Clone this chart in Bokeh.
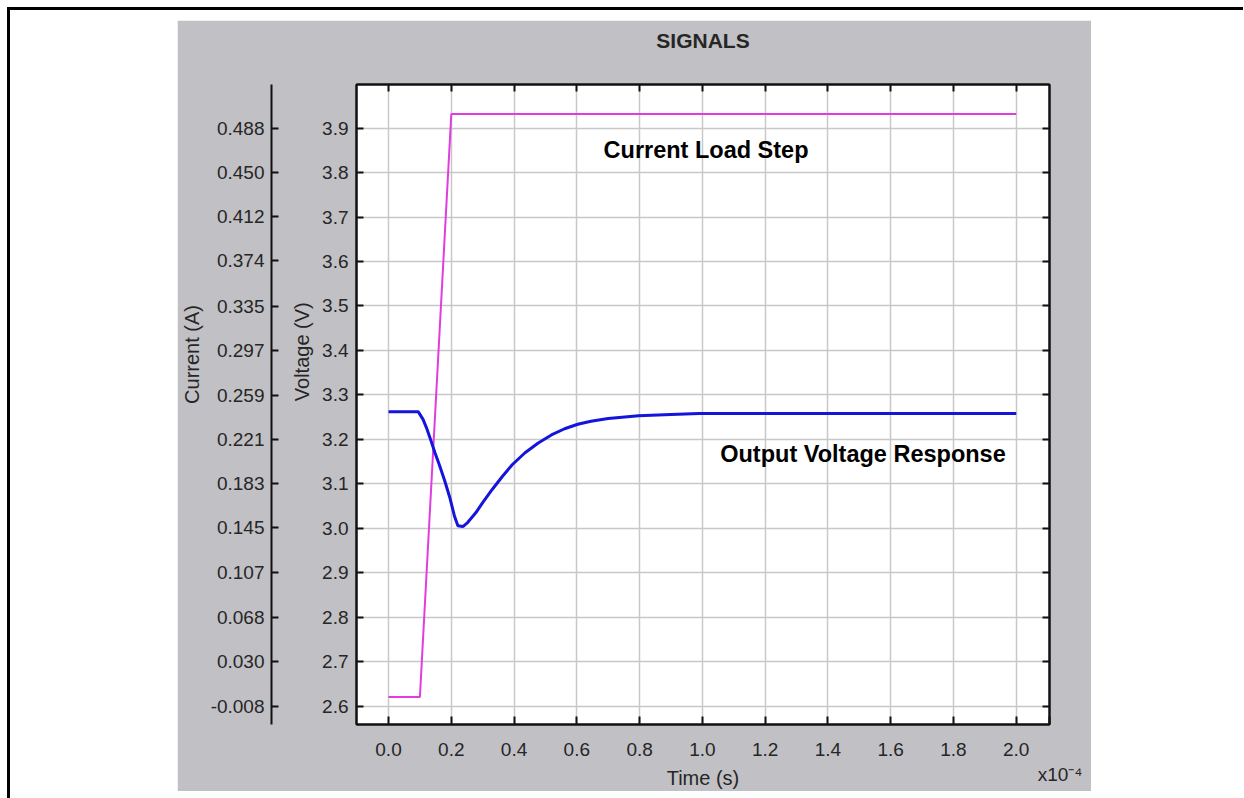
import numpy as np
from bokeh.plotting import figure
from bokeh.models import (LinearAxis, Range1d, FixedTicker, NumeralTickFormatter, Spacer, Label)
from bokeh.layouts import row, column
from bokeh.embed import file_html
from bokeh.resources import INLINE

# ---------------- data ----------------
time_ticks = [0.0, 0.2, 0.4, 0.6, 0.8, 1.0, 1.2, 1.4, 1.6, 1.8, 2.0]          # x10^-4 s
time_multiplier = "x10\u207b\u2074"
voltage_ticks = [2.6, 2.7, 2.8, 2.9, 3.0, 3.1, 3.2, 3.3, 3.4, 3.5, 3.6, 3.7, 3.8, 3.9]
current_tick_labels = ["-0.008", "0.030", "0.068", "0.107", "0.145", "0.183", "0.221",
                       "0.259", "0.297", "0.335", "0.374", "0.412", "0.450", "0.488"]

current_time = [0.0, 0.1, 0.2, 2.0]
current_amps = [0.0, 0.0, 0.5, 0.5]

voltage_time = [0.0, 0.095, 0.11, 0.121, 0.132, 0.148, 0.163, 0.179, 0.195, 0.21,
                0.221, 0.237, 0.252, 0.278, 0.30, 0.331, 0.362, 0.394, 0.435, 0.477,
                0.519, 0.561, 0.603, 0.645, 0.70, 0.797, 0.90, 0.99, 2.0]
voltage_volts = [3.262, 3.262, 3.245, 3.226, 3.204, 3.170, 3.141, 3.107, 3.070, 3.028,
                 3.006, 3.004, 3.013, 3.035, 3.058, 3.088, 3.116, 3.143, 3.170, 3.192,
                 3.210, 3.224, 3.234, 3.241, 3.247, 3.253, 3.256, 3.258, 3.258]

# ---------------- style ----------------
FONT = "Liberation Sans"
GRAY = "#c1c0c4"
TXT = "#262626"
AXC = "#111111"
NB = "\u00a0"

V_MIN, V_MAX = 2.559, 3.998
T_MIN, T_MAX = -0.102, 2.106
cur_lo, cur_hi = float(current_tick_labels[0]), float(current_tick_labels[-1])
k = (cur_hi - cur_lo) / (voltage_ticks[-1] - voltage_ticks[0])
I_MIN = cur_lo + (V_MIN - voltage_ticks[0]) * k
I_MAX = cur_lo + (V_MAX - voltage_ticks[0]) * k

p = figure(width=914, height=771,
           x_range=Range1d(T_MIN, T_MAX), y_range=Range1d(V_MIN, V_MAX),
           output_backend="svg", toolbar_location=None,
           border_fill_color=GRAY, background_fill_color="white",
           outline_line_color=AXC, outline_line_width=2,
           min_border_left=172, min_border_right=42,
           min_border_top=64, min_border_bottom=66)
p.extra_y_ranges = {"current": Range1d(I_MIN, I_MAX)}

# title sits on the first of two lines so that it rides higher above the frame
p.title.text = "SIGNALS\n"
p.title.align = "center"
p.title.text_font = FONT
p.title.text_font_size = "21px"
p.title.text_font_style = "bold"
p.title.text_color = TXT
p.title.text_line_height = 1.4
p.title.standoff = 0


def style_axis(ax, ticks, fmt, tick_in=7):
    ax.ticker = FixedTicker(ticks=ticks)
    ax.formatter = NumeralTickFormatter(format=fmt)
    ax.major_tick_in = tick_in
    ax.major_tick_out = 0
    ax.minor_tick_line_color = None
    ax.axis_line_color = AXC
    ax.axis_line_width = 2
    ax.major_tick_line_color = AXC
    ax.major_tick_line_width = 2
    ax.major_label_text_font = FONT
    ax.major_label_text_font_size = "19px"
    ax.major_label_text_color = TXT
    ax.axis_label_text_font = FONT
    ax.axis_label_text_font_size = "20px"
    ax.axis_label_text_font_style = "normal"
    ax.axis_label_text_color = TXT


# bottom time axis; the x10^-4 multiplier sits on a second line at the axis end
mult_tick = T_MAX - 1e-9
xa = p.xaxis[0]
style_axis(xa, time_ticks + [mult_tick], "0.0", 8)
xa.major_label_overrides = {mult_tick: "\n" + NB * 4 + time_multiplier}
xa.major_label_standoff = 14
xa.axis_label = "Time (s)"
xa.axis_label_standoff = -21

# left voltage axis (next to frame)
va = p.yaxis[0]
style_axis(va, voltage_ticks, "0.0")
va.major_label_standoff = 8
va.axis_label = "\n" + NB * 19 + "Voltage (V)"
va.axis_label_text_line_height = 0.75
va.axis_label_standoff = 6

# outer left current axis
ca = LinearAxis(y_range_name="current")
style_axis(ca, [float(s) for s in current_tick_labels], "0.000")
ca.major_label_standoff = 7
ca.axis_label = NB * 18 + "Current (A)"
ca.axis_label_standoff = 5
p.add_layout(ca, "left")

# top and right frame axes (ticks only)
ta = LinearAxis()
style_axis(ta, time_ticks, "0.0")
ta.major_label_text_alpha = 0
ta.major_label_text_font_size = "0px"
p.add_layout(ta, "above")

ra = LinearAxis()
style_axis(ra, voltage_ticks, "0.0")
ra.major_label_text_alpha = 0
ra.major_label_text_font_size = "0px"
p.add_layout(ra, "right")

p.xgrid.ticker = FixedTicker(ticks=time_ticks)
p.ygrid.ticker = FixedTicker(ticks=voltage_ticks)
for g in (p.xgrid, p.ygrid):
    g.grid_line_color = "#c8c8c8"
    g.grid_line_width = 1.5

p.line(current_time, current_amps, y_range_name="current",
       line_color="#e03ce0", line_width=2)
p.line(voltage_time, voltage_volts, line_color="#1414dc", line_width=3)

p.add_layout(Label(x=1.0117, y=3.8497, text="Current Load Step", text_align="center",
                   text_baseline="alphabetic", text_font=FONT, text_font_size="23.5px",
                   text_font_style="bold", text_color="black"))
p.add_layout(Label(x=1.5117, y=3.1672, text="Output Voltage Response", text_align="center",
                   text_baseline="alphabetic", text_font=FONT, text_font_size="23.5px",
                   text_font_style="bold", text_color="black"))

layout = column(
    Spacer(height=10),
    row(Spacer(width=167), p, Spacer(width=152)),
    Spacer(height=7),
    margin=(7, 0, 0, 7),
    styles={"border-top": "3px solid black", "border-left": "3px solid black"},
)

open("out.html", "w").write(file_html(layout, INLINE, "SIGNALS"))
